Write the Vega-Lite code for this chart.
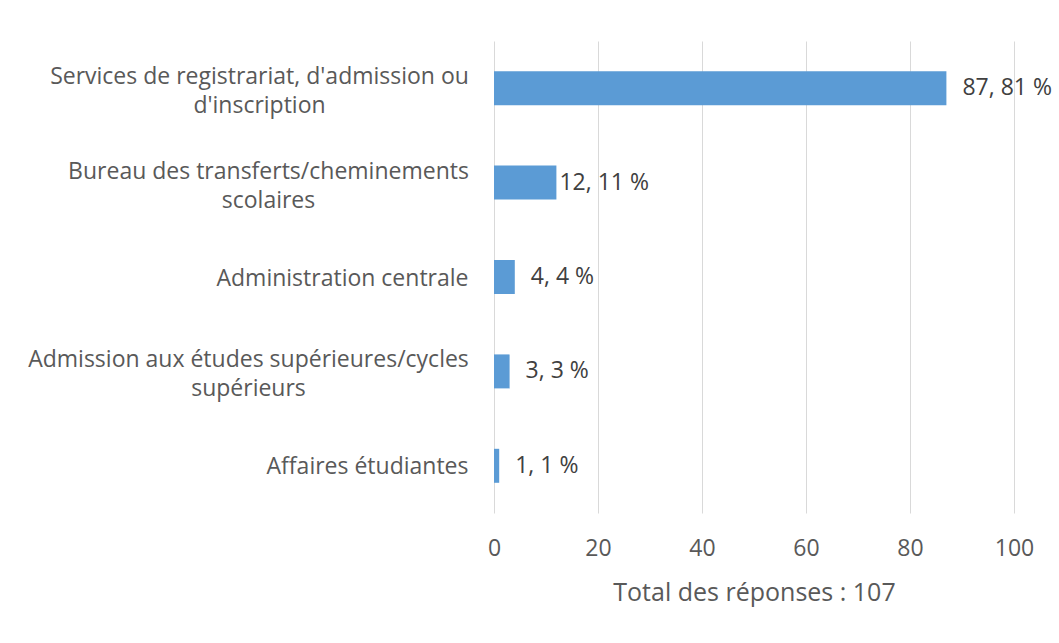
{
  "$schema": "https://vega.github.io/schema/vega-lite/v6.json",
  "width": 520,
  "height": 472,
  "autosize": "none",
  "padding": {"left": 494, "top": 41, "right": 45, "bottom": 130},
  "background": "white",
  "config": {
    "view": {"stroke": null},
    "font": "Open Sans"
  },
  "data": {
    "values": [
      {"categorie": "Services de registrariat, d'admission ou|d'inscription", "valeur": 87, "etiquette": "87, 81 %"},
      {"categorie": "Bureau des transferts/cheminements|scolaires", "valeur": 12, "etiquette": "12, 11 %"},
      {"categorie": "Administration centrale", "valeur": 4, "etiquette": "4, 4 %"},
      {"categorie": "Admission aux études supérieures/cycles|supérieurs", "valeur": 3, "etiquette": "3, 3 %"},
      {"categorie": "Affaires étudiantes", "valeur": 1, "etiquette": "1, 1 %"}
    ]
  },
  "encoding": {
    "y": {
      "field": "categorie",
      "type": "nominal",
      "sort": null,
      "scale": {"paddingInner": 0.64, "paddingOuter": 0.32},
      "axis": {
        "title": null,
        "ticks": false,
        "domain": false,
        "labelExpr": "split(datum.label, '|')",
        "labelFontSize": 23,
        "labelColor": "#595959",
        "labelAlign": {"condition": {"test": "indexof(datum.value, '|') >= 0", "value": "center"}, "value": "right"},
        "labelPadding": {"condition": [
          {"test": "indexof(datum.value, 'Services') == 0", "value": 235},
          {"test": "indexof(datum.value, 'Bureau') == 0", "value": 226},
          {"test": "indexof(datum.value, 'Admission aux') == 0", "value": 246}
        ], "value": 26},
        "labelOffset": {"condition": {"test": "indexof(datum.value, '|') >= 0", "value": -11}, "value": 1.5},
        "labelLimit": 600,
        "labelLineHeight": 29
      }
    },
    "x": {
      "field": "valeur",
      "type": "quantitative",
      "scale": {"domain": [0, 100]},
      "axis": {
        "values": [0, 20, 40, 60, 80, 100],
        "title": "Total des réponses : 107",
        "titleFontSize": 25,
        "titleFontWeight": "normal",
        "titleColor": "#595959",
        "titlePadding": 20,
        "labelFontSize": 23,
        "labelColor": "#595959",
        "labelPadding": 24,
        "labelFlush": false,
        "ticks": false,
        "domain": false,
        "gridColor": "#d9d9d9",
        "gridWidth": 1
      }
    }
  },
  "layer": [
    {"mark": {"type": "bar", "color": "#5b9bd5"}},
    {
      "mark": {"type": "text", "align": "left", "baseline": "middle", "dx": {"expr": "datum.valeur == 12 ? 3 : 16"}, "fontSize": 23, "color": "#404040"},
      "encoding": {"text": {"field": "etiquette"}}
    }
  ]
}
